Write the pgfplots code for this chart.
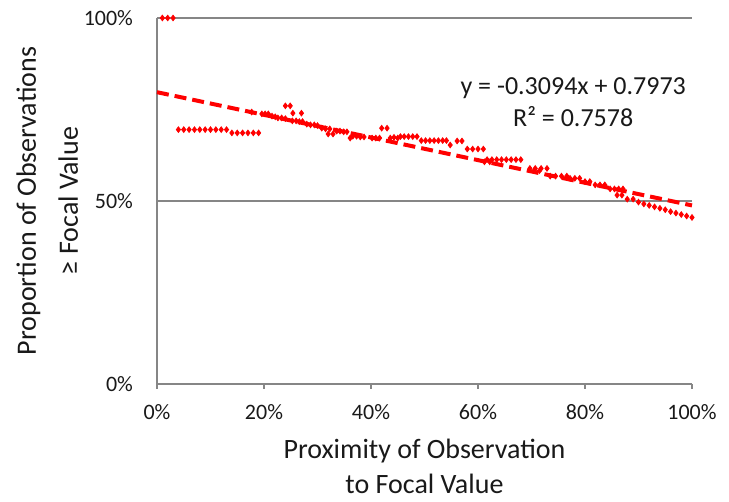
\documentclass[border=0pt]{standalone}
\usepackage{fontspec}
\setmainfont{Carlito}
\usepackage{pgfplots}
\usepackage{pgfplotstable}
\pgfplotsset{compat=1.18}
\definecolor{axisgray}{HTML}{868686}

\pgfplotstableread{
x y
0.010 1.000
0.020 1.000
0.030 1.000
0.040 0.695
0.050 0.695
0.060 0.695
0.070 0.695
0.080 0.695
0.090 0.695
0.100 0.695
0.110 0.695
0.120 0.695
0.130 0.695
0.140 0.686
0.150 0.686
0.160 0.686
0.170 0.686
0.180 0.686
0.190 0.686
0.177 0.743
0.196 0.738
0.202 0.738
0.208 0.738
0.215 0.732
0.221 0.730
0.226 0.727
0.233 0.727
0.240 0.725
0.240 0.760
0.249 0.760
0.254 0.740
0.270 0.740
0.253 0.719
0.260 0.719
0.266 0.717
0.272 0.717
0.280 0.710
0.287 0.708
0.294 0.708
0.300 0.706
0.308 0.699
0.315 0.697
0.323 0.697
0.320 0.683
0.329 0.683
0.336 0.691
0.342 0.691
0.349 0.689
0.355 0.689
0.361 0.672
0.366 0.677
0.373 0.677
0.380 0.675
0.387 0.675
0.402 0.672
0.409 0.672
0.416 0.672
0.420 0.699
0.430 0.699
0.436 0.672
0.443 0.674
0.450 0.672
0.455 0.676
0.462 0.676
0.470 0.676
0.478 0.676
0.486 0.676
0.494 0.665
0.502 0.665
0.510 0.665
0.518 0.665
0.526 0.665
0.534 0.665
0.541 0.665
0.548 0.653
0.561 0.664
0.570 0.664
0.580 0.642
0.590 0.642
0.600 0.642
0.610 0.642
0.612 0.607
0.622 0.607
0.617 0.613
0.626 0.613
0.635 0.613
0.644 0.613
0.653 0.613
0.662 0.613
0.671 0.613
0.680 0.613
0.697 0.589
0.707 0.589
0.718 0.589
0.729 0.589
0.705 0.583
0.715 0.583
0.735 0.568
0.745 0.568
0.756 0.568
0.766 0.568
0.772 0.562
0.781 0.562
0.790 0.562
0.800 0.553
0.809 0.553
0.819 0.544
0.828 0.544
0.837 0.544
0.847 0.533
0.855 0.533
0.863 0.533
0.871 0.533
0.860 0.516
0.869 0.516
0.879 0.505
0.890 0.505
0.900 0.497
0.910 0.492
0.920 0.488
0.930 0.484
0.940 0.480
0.950 0.476
0.960 0.471
0.970 0.467
0.980 0.463
0.990 0.459
1.000 0.455
}\obsdata

\begin{document}
\begin{tikzpicture}
\useasboundingbox (-78.5pt,-59pt) rectangle (286pt,192pt);
\begin{axis}[
    scale only axis,
    width=267.5pt,
    height=183pt,
    xmin=0, xmax=1,
    ymin=0, ymax=1,
    clip=false,
    axis lines*=left,
    axis line style={axisgray, line width=0.6pt},
    xtick={0,0.2,0.4,0.6,0.8,1},
    xticklabels={0\%,20\%,40\%,60\%,80\%,100\%},
    ytick={0,0.5,1},
    yticklabels={0\%,50\%,100\%},
    tick align=outside,
    major tick length=2.5pt,
    xtick style={axisgray, line width=0.6pt},
    ytick style={draw=none},
    ymajorgrids,
    grid style={axisgray, line width=0.6pt},
    ticklabel style={font=\fontsize{11}{13}\selectfont, text=black!90},
    /pgf/number format/assume math mode=true,
    xticklabel style={yshift=-4pt},
    yticklabel style={xshift=-6pt},
    xlabel={Proximity of Observation\\to Focal Value},
    xlabel style={align=center, font=\fontsize{14}{17.5}\selectfont, text=black!90, yshift=-3pt},
    ylabel={Proportion of Observations\\≥ Focal Value},
    ylabel style={align=center, font=\fontsize{14}{21}\selectfont, text=black!90, yshift=-4pt},
]
\addplot[only marks, mark=diamond*, mark size=1.4pt, color=red, mark options={fill=red, draw=red}] table[x=x, y=y] {\obsdata};
\addplot[red, line width=2pt, dash pattern=on 6pt off 3pt] coordinates {(0,0.7973) (1,0.4879)};
\node[font=\fontsize{13}{15}\selectfont, text=black!90] at (axis cs:0.778,0.809) {y = -0.3094x + 0.7973};
\node[font=\fontsize{13}{15}\selectfont, text=black!90] at (axis cs:0.778,0.730) {R² = 0.7578};
\end{axis}
\end{tikzpicture}
\end{document}
